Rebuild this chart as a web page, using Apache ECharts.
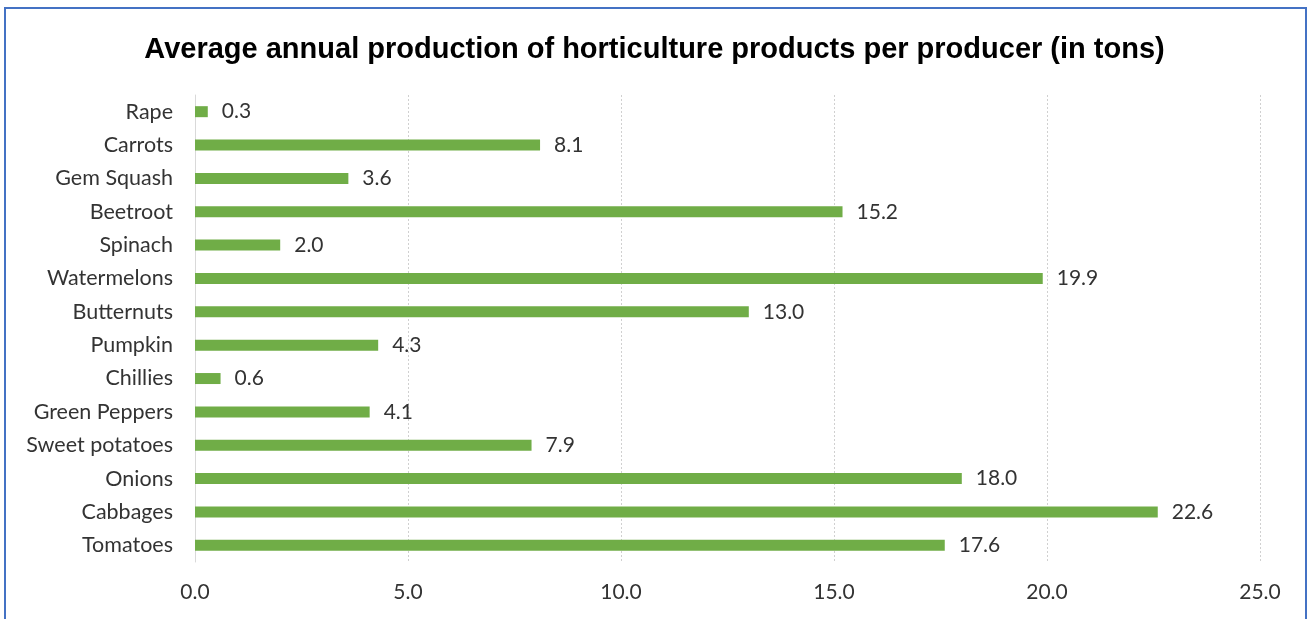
<!DOCTYPE html>
<html><head><meta charset="utf-8">
<script src="https://cdn.jsdelivr.net/npm/echarts@6/dist/echarts.min.js"></script>
<style>html,body{margin:0;padding:0;background:#fff}#c{width:1309px;height:619px}</style>
</head><body><div id="c"></div>
<script>
const categories = ["Tomatoes","Cabbages","Onions","Sweet potatoes","Green Peppers","Chillies","Pumpkin","Butternuts","Watermelons","Spinach","Beetroot","Gem Squash","Carrots","Rape"];
const values = [17.6,22.6,18.0,7.9,4.1,0.6,4.3,13.0,19.9,2.0,15.2,3.6,8.1,0.3];
const xTicks = {min:0, max:25, interval:5};
const titleText = "Average annual production of horticulture products per producer (in tons)";

const chart = echarts.init(document.getElementById('c'), null, {renderer:'canvas'});
chart.setOption({
  animation:false,
  backgroundColor:'#fff',
  title:{text:titleText,left:'center',top:30,textStyle:{fontFamily:'Liberation Sans',fontWeight:'bold',fontSize:29,color:'#000'}},
  grid:{left:195,right:49,top:95,bottom:57,containLabel:false},
  xAxis:{type:'value',min:xTicks.min,max:xTicks.max,interval:xTicks.interval,
    axisLine:{show:false},axisTick:{show:false},
    axisLabel:{formatter:v=>v.toFixed(1),fontFamily:'Lato',fontSize:21,color:'#333',margin:20},
    splitLine:{show:true,lineStyle:{color:'#d0d0d0',type:[2,2],width:1}}},
  yAxis:{type:'category',data:categories,
    axisLine:{show:true,lineStyle:{color:'#d9d9d9'}},axisTick:{show:false},
    axisLabel:{fontFamily:'Lato',fontSize:21.5,color:'#333',margin:22}},
  series:[{type:'bar',data:values,barWidth:11,itemStyle:{color:'#70AD47'},
    label:{show:true,position:'right',distance:14,formatter:p=>p.value.toFixed(1),fontFamily:'Lato',fontSize:21,color:'#333'}}],
  graphic:[{type:'rect',shape:{x:5,y:8,width:1301,height:700},style:{fill:'none',stroke:'#4472C4',lineWidth:2},z:100}]
});
</script></body></html>
